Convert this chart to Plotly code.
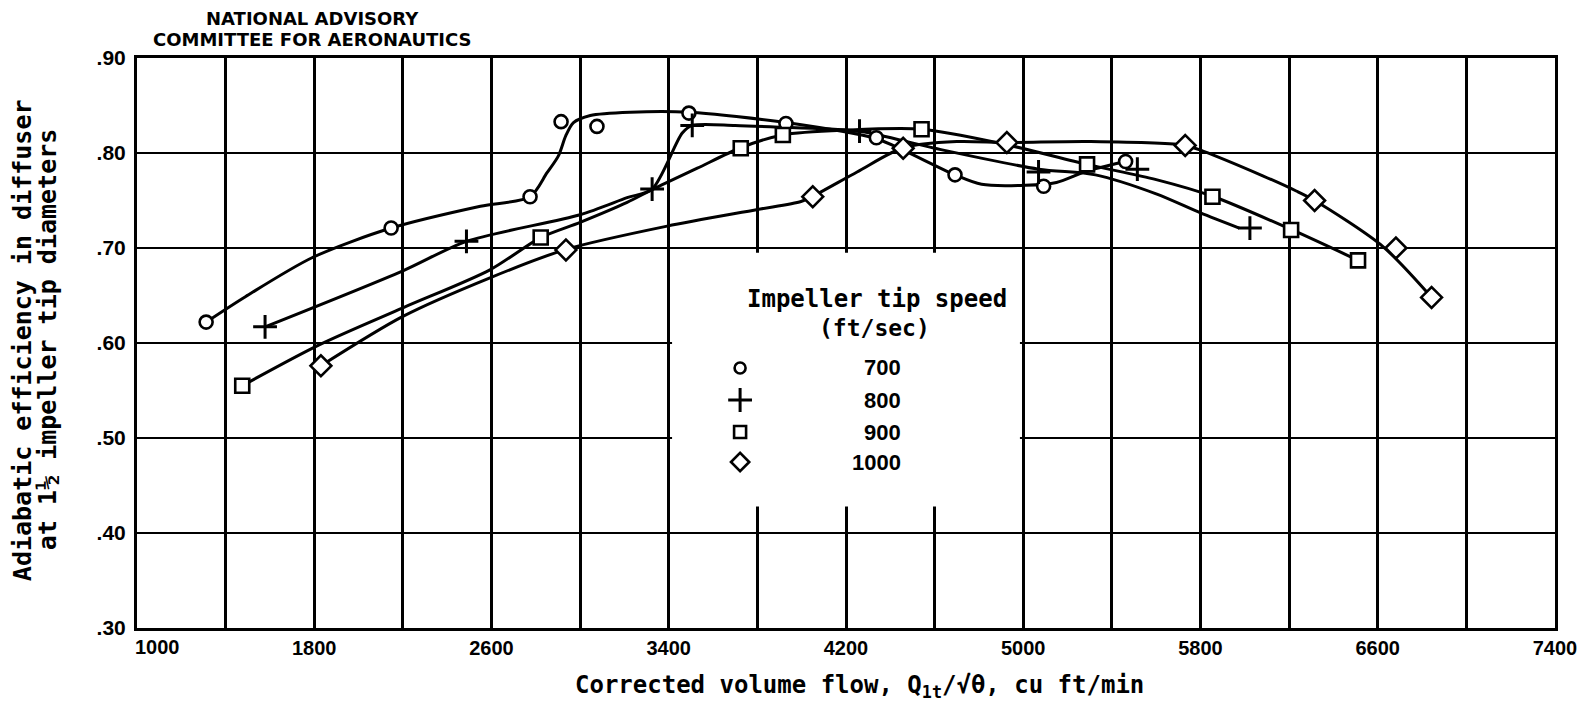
import plotly.graph_objects as go

# ---------------- data ----------------
speeds = ["700", "800", "900", "1000"]
symbols = ["circle", "cross-thin", "square", "diamond"]

# measured points
pts700_x = [1312, 2147, 2774, 2914, 3076, 3491, 3929, 4337, 4692, 5092, 5462]
pts700_y = [0.622, 0.721, 0.754, 0.833, 0.828, 0.842, 0.831, 0.816, 0.777, 0.765, 0.791]

pts800_x = [1578, 2487, 3325, 3506, 4261, 5069, 5515, 6023]
pts800_y = [0.617, 0.707, 0.762, 0.829, 0.823, 0.780, 0.783, 0.721]

pts900_x = [1475, 2822, 3725, 3915, 4541, 5288, 5854, 6209, 6511]
pts900_y = [0.555, 0.711, 0.805, 0.819, 0.825, 0.788, 0.754, 0.719, 0.687]

pts1000_x = [1830, 2936, 4050, 4458, 4926, 5731, 6315, 6682, 6843]
pts1000_y = [0.576, 0.698, 0.754, 0.805, 0.811, 0.808, 0.750, 0.700, 0.648]

# faired curves
fair700_x = [1312, 1491, 1792, 2147, 2550, 2774, 2850, 2902, 2935, 2970, 3046, 3227, 3491, 3929, 4337, 4458, 4692, 4812, 5009, 5150, 5288, 5462]
fair700_y = [0.622, 0.649, 0.690, 0.721, 0.744, 0.754, 0.779, 0.797, 0.818, 0.832, 0.8395, 0.843, 0.843, 0.832, 0.815, 0.803, 0.777, 0.767, 0.766, 0.769, 0.781, 0.791]

fair800_x = [1578, 2200, 2487, 3000, 3212, 3325, 3461, 3506, 3700, 3920, 4261, 4600, 5069, 5326, 5600, 5800, 5975]
fair800_y = [0.617, 0.676, 0.707, 0.735, 0.753, 0.762, 0.821, 0.829, 0.829, 0.827, 0.823, 0.805, 0.783, 0.777, 0.757, 0.737, 0.721]

fair900_x = [1475, 1822, 2200, 2593, 2822, 3000, 3212, 3330, 3529, 3725, 3915, 4200, 4541, 4900, 5288, 5600, 5854, 6209, 6511]
fair900_y = [0.555, 0.598, 0.637, 0.677, 0.711, 0.727, 0.748, 0.762, 0.784, 0.8055, 0.819, 0.824, 0.825, 0.810, 0.788, 0.772, 0.7545, 0.7195, 0.687]

fair1000_x = [1830, 2200, 2593, 2936, 3393, 3801, 3997, 4050, 4250, 4458, 4700, 4926, 5300, 5731, 5811, 6081, 6232, 6315, 6621, 6843]
fair1000_y = [0.576, 0.628, 0.6686, 0.6985, 0.723, 0.7405, 0.749, 0.7545, 0.780, 0.8055, 0.812, 0.811, 0.812, 0.808, 0.802, 0.776, 0.760, 0.750, 0.702, 0.648]

x_ticks = [1000, 1800, 2600, 3400, 4200, 5000, 5800, 6600, 7400]
y_ticks = [0.30, 0.40, 0.50, 0.60, 0.70, 0.80, 0.90]
y_ticktext = [".30", ".40", ".50", ".60", ".70", ".80", ".90"]

pts = [(pts700_x, pts700_y), (pts800_x, pts800_y), (pts900_x, pts900_y), (pts1000_x, pts1000_y)]
fairs = [(fair700_x, fair700_y), (fair800_x, fair800_y), (fair900_x, fair900_y), (fair1000_x, fair1000_y)]

MONO = "DejaVu Sans Mono"
SANS = "Liberation Sans Narrow, Liberation Sans, Arial"
TICKFONT_X = dict(family=SANS, size=20, color="black", weight="bold")

fig = go.Figure()

for (fx, fy) in fairs:
    fig.add_trace(go.Scatter(x=fx, y=fy, mode="lines",
                             line=dict(color="black", width=3, shape="spline", smoothing=0.8),
                             hoverinfo="skip", showlegend=False))

marker_sizes = [13, 17, 14, 16]
for (px, py), sym, sz in zip(pts, symbols, marker_sizes):
    if sym == "cross-thin":
        mk = dict(symbol=sym, size=sz, line=dict(color="black", width=3))
    else:
        mk = dict(symbol=sym, size=sz, color="white", line=dict(color="black", width=2.6))
    fig.add_trace(go.Scatter(x=px, y=py, mode="markers", marker=mk, showlegend=False))

# legend (drawn inside the plot, as in the original)
leg_x = 3722
leg_rows = [0.5737, 0.540, 0.5063, 0.4747]
for sym, sz, ly in zip(symbols, marker_sizes, leg_rows):
    if sym == "cross-thin":
        mk = dict(symbol=sym, size=sz, line=dict(color="black", width=3))
    else:
        mk = dict(symbol=sym, size=sz - 2, color="white", line=dict(color="black", width=2.6))
    fig.add_trace(go.Scatter(x=[leg_x], y=[ly], mode="markers", marker=mk,
                             showlegend=False, hoverinfo="skip", cliponaxis=False))

annotations = []
for s, ly in zip(speeds, leg_rows):
    annotations.append(dict(x=4455, y=ly, xref="x", yref="y", text=s, showarrow=False,
                            xanchor="right", yanchor="middle",
                            font=dict(family=SANS, size=22, color="black", weight="bold")))
annotations.append(dict(x=4340, y=0.6463, xref="x", yref="y", text="Impeller tip speed",
                        showarrow=False, xanchor="center", yanchor="middle",
                        font=dict(family=MONO, size=24, color="black", weight="bold")))
annotations.append(dict(x=4330, y=0.6158, xref="x", yref="y", text="(ft/sec)",
                        showarrow=False, xanchor="center", yanchor="middle",
                        font=dict(family=MONO, size=23, color="black", weight="bold")))

# first x tick label sits a little right of the axis in the original
annotations.append(dict(x=x_ticks[0], y=0, xref="x", yref="paper", text=str(x_ticks[0]),
                        showarrow=False, xanchor="center", yanchor="middle",
                        xshift=20, yshift=-19, font=TICKFONT_X))

# plot area in page pixels: left 137, right 1555, top 58, bottom 628 (1418 x 570)
hx = (312 - 137) / 1418
annotations.append(dict(x=hx, y=1 + (58 - 18) / 570, xref="paper", yref="paper",
                        text="NATIONAL ADVISORY", showarrow=False, xanchor="center", yanchor="middle",
                        font=dict(family="DejaVu Sans", size=18, color="black", weight="bold")))
annotations.append(dict(x=hx, y=1 + (58 - 40) / 570, xref="paper", yref="paper",
                        text="COMMITTEE FOR AERONAUTICS", showarrow=False, xanchor="center", yanchor="middle",
                        font=dict(family="DejaVu Sans", size=18, color="black", weight="bold")))

# y title (two lines)
annotations.append(dict(x=(22 - 137) / 1418, y=0.505, xref="paper", yref="paper",
                        text="Adiabatic efficiency in diffuser", textangle=-90, showarrow=False,
                        xanchor="center", yanchor="middle",
                        font=dict(family=MONO, size=25, color="black", weight="bold")))
annotations.append(dict(x=(47 - 137) / 1418, y=0.505, xref="paper", yref="paper",
                        text="at 1½ impeller tip diameters", textangle=-90, showarrow=False,
                        xanchor="center", yanchor="middle",
                        font=dict(family=MONO, size=25, color="black", weight="bold")))
# x title
annotations.append(dict(x=(859 - 137) / 1418, y=-(686 - 628) / 570, xref="paper", yref="paper",
                        text="Corrected volume flow, Q<sub>1t</sub>/√θ, cu ft/min", showarrow=False,
                        xanchor="center", yanchor="middle",
                        font=dict(family=MONO, size=24, color="black", weight="bold")))

# the page body adds an 8 px margin, so the figure is 16 px smaller than the window
fig.update_layout(
    width=1586, height=702,
    margin=dict(l=129, r=39, t=50, b=82),
    paper_bgcolor="white", plot_bgcolor="white",
    showlegend=False,
    annotations=annotations,
    shapes=[dict(type="rect", xref="x", yref="y", x0=3415, x1=4985, y0=0.428, y1=0.695,
                 fillcolor="white", line=dict(width=0), layer="between")],
)

fig.update_xaxes(
    range=[1000, 7400], tickvals=x_ticks[1:], ticktext=[str(v) for v in x_ticks[1:]],
    showgrid=True, gridcolor="black", gridwidth=2.5,
    minor=dict(tick0=1000, dtick=400, showgrid=True, gridcolor="black", gridwidth=2.5),
    showline=True, linecolor="black", linewidth=3, mirror=True,
    ticks="", zeroline=False,
    tickfont=TICKFONT_X,
)
fig.update_yaxes(
    range=[0.30, 0.90], tickvals=y_ticks, ticktext=y_ticktext,
    showgrid=True, gridcolor="black", gridwidth=2,
    showline=True, linecolor="black", linewidth=3, mirror=True,
    ticks="", zeroline=False, ticklabelstandoff=4,
    tickfont=dict(family="Liberation Sans, Arial", size=21, color="black", weight="bold"),
)

fig.write_html("out.html")
